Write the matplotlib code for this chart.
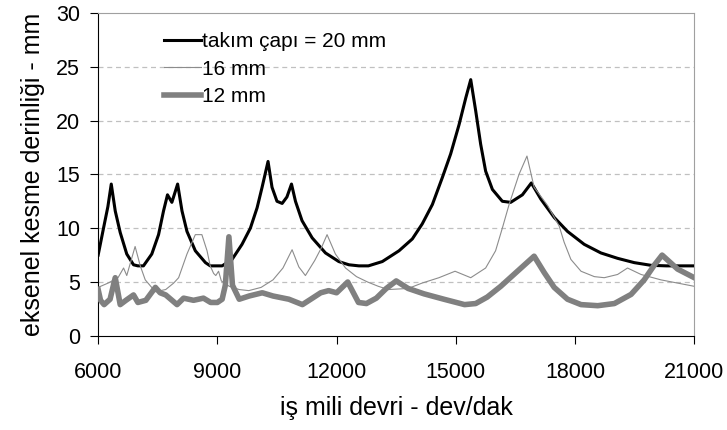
import matplotlib
matplotlib.use("Agg")
import matplotlib.pyplot as plt

plt.rcParams['font.family'] = ['Liberation Sans', 'DejaVu Sans']

# takım çapı = 20 mm
rpm_20 = [6000, 6135, 6245, 6330, 6430, 6555, 6720, 6890, 7000, 7140, 7350, 7520,
          7645, 7745, 7855, 8000, 8110, 8235, 8445, 8700, 8820, 9120, 9370, 9620,
          9830, 10000, 10125, 10275, 10375, 10500, 10630, 10750, 10865, 10965, 11130,
          11385, 11720, 12055, 12310, 12560, 12800, 13150, 13570, 13905, 14155, 14410,
          14660, 14870, 15080, 15250, 15375, 15500, 15625, 15750, 15920, 16170, 16380,
          16675, 16900, 17140, 17475, 17810, 18230, 18650, 19070, 19490, 19910, 20300,
          21000]
d_20 = [7.5, 10.0, 12.0, 14.1, 11.6, 9.6, 7.6, 6.6, 6.5, 6.5, 7.6, 9.4,
        11.6, 13.1, 12.4, 14.1, 11.6, 9.7, 7.9, 6.8, 6.5, 6.5, 7.1, 8.5,
        10.0, 11.9, 13.8, 16.2, 13.8, 12.5, 12.3, 12.9, 14.1, 12.5, 10.7,
        9.1, 7.7, 6.9, 6.6, 6.5, 6.5, 6.9, 7.9, 9.0, 10.4, 12.2,
        14.7, 16.9, 19.6, 22.1, 23.8, 20.9, 17.8, 15.3, 13.6, 12.5, 12.4,
        13.1, 14.2, 12.7, 11.0, 9.7, 8.5, 7.7, 7.2, 6.8, 6.55, 6.5,
        6.5]

# 16 mm
rpm_16 = [6000, 6250, 6500, 6640, 6720, 6790, 6930, 7060, 7185, 7440, 7700, 7900,
          8025, 8235, 8445, 8610, 8740, 8820, 8905, 8960, 9030, 9100, 9300, 9550,
          9790, 10100, 10400, 10650, 10880, 11050, 11215, 11450, 11620, 11760, 11970,
          12225, 12500, 12780, 13050, 13300, 13800, 14150, 14575, 14980, 15375, 15750,
          16000, 16170, 16340, 16590, 16790, 16970, 17310, 17600, 17725, 17895, 18150,
          18485, 18735, 19070, 19320, 19660, 20160, 21000]
d_16 = [4.5, 4.9, 5.4, 6.3, 5.6, 6.5, 8.3, 6.5, 5.2, 4.1, 4.3, 4.9,
        5.4, 7.6, 9.4, 9.4, 7.9, 6.5, 5.8, 5.6, 6.0, 5.1, 4.6, 4.3,
        4.2, 4.5, 5.2, 6.3, 8.0, 6.4, 5.6, 7.0, 8.2, 9.4, 7.6,
        6.3, 5.5, 5.0, 4.6, 4.3, 4.4, 4.9, 5.4, 6.0, 5.4, 6.3,
        7.9, 10.0, 12.2, 15.0, 16.7, 13.8, 12.1, 10.2, 8.7, 7.1, 6.0,
        5.5, 5.4, 5.7, 6.3, 5.7, 5.2, 4.6]

# 12 mm
rpm_12 = [6000, 6060, 6150, 6300, 6430, 6555, 6700, 6890, 7000, 7200, 7440, 7560,
          7700, 7985, 8150, 8400, 8650, 8830, 9000, 9120, 9200, 9290, 9380, 9550,
          9800, 10130, 10400, 10800, 11140, 11350, 11600, 11800, 12000, 12280, 12550,
          12750, 13000, 13250, 13500, 13800, 14200, 14700, 15220, 15500, 15790, 16130,
          16550, 16970, 17220, 17475, 17810, 18150, 18570, 18990, 19410, 19740, 20000,
          20190, 20580, 21000]
d_12 = [4.3, 3.3, 2.9, 3.4, 5.4, 2.9, 3.3, 3.8, 3.1, 3.3, 4.5, 4.0,
        3.8, 2.9, 3.5, 3.3, 3.5, 3.1, 3.1, 3.4, 4.7, 9.2, 4.7, 3.4,
        3.7, 4.0, 3.7, 3.4, 2.9, 3.4, 4.0, 4.2, 4.0, 5.0, 3.1,
        3.0, 3.5, 4.4, 5.1, 4.4, 3.9, 3.4, 2.9, 3.0, 3.6, 4.6,
        6.0, 7.4, 5.9, 4.5, 3.4, 2.9, 2.8, 3.0, 3.85, 5.2, 6.6,
        7.5, 6.2, 5.4]

x_ticks = [6000, 9000, 12000, 15000, 18000, 21000]
y_ticks = [0, 5, 10, 15, 20, 25, 30]

fig = plt.figure(figsize=(7.27, 4.30), dpi=100)
ax = fig.add_axes([0.135, 0.219, 0.820, 0.751])

ax.plot(rpm_20, d_20, color='black', lw=2.2, label='takım çapı = 20 mm', zorder=3)
ax.plot(rpm_16, d_16, color='#8c8c8c', lw=0.8, label='16 mm', zorder=4)
ax.plot(rpm_12, d_12, color='#808080', lw=4, label='12 mm', zorder=5,
        solid_joinstyle='round')

ax.set_xlim(6000, 21000)
ax.set_ylim(0, 30)
ax.set_xticks(x_ticks)
ax.set_yticks(y_ticks)
ax.tick_params(axis='x', direction='out', length=6, pad=13, labelsize=15.5)
ax.tick_params(axis='y', direction='out', length=6, pad=7, labelsize=15.5)

# kesikli yatay ızgara
for y in y_ticks[1:-1]:
    ax.axhline(y, color='#c0c0c0', lw=0.9, ls=(0, (4, 3)), zorder=1)

ax.spines['top'].set_color('#a0a0a0')
ax.spines['right'].set_color('#a0a0a0')

ax.set_xlabel('iş mili devri - dev/dak', fontsize=18, labelpad=9)
ax.set_ylabel('eksenel kesme derinliği - mm', fontsize=18, labelpad=8)

ax.legend(loc='upper left', bbox_to_anchor=(0.11, 0.94), frameon=False,
          fontsize=15, handlelength=1.8, handletextpad=0.05, labelspacing=0.4,
          borderpad=0, borderaxespad=0)

fig.savefig('out.png', dpi=100)
